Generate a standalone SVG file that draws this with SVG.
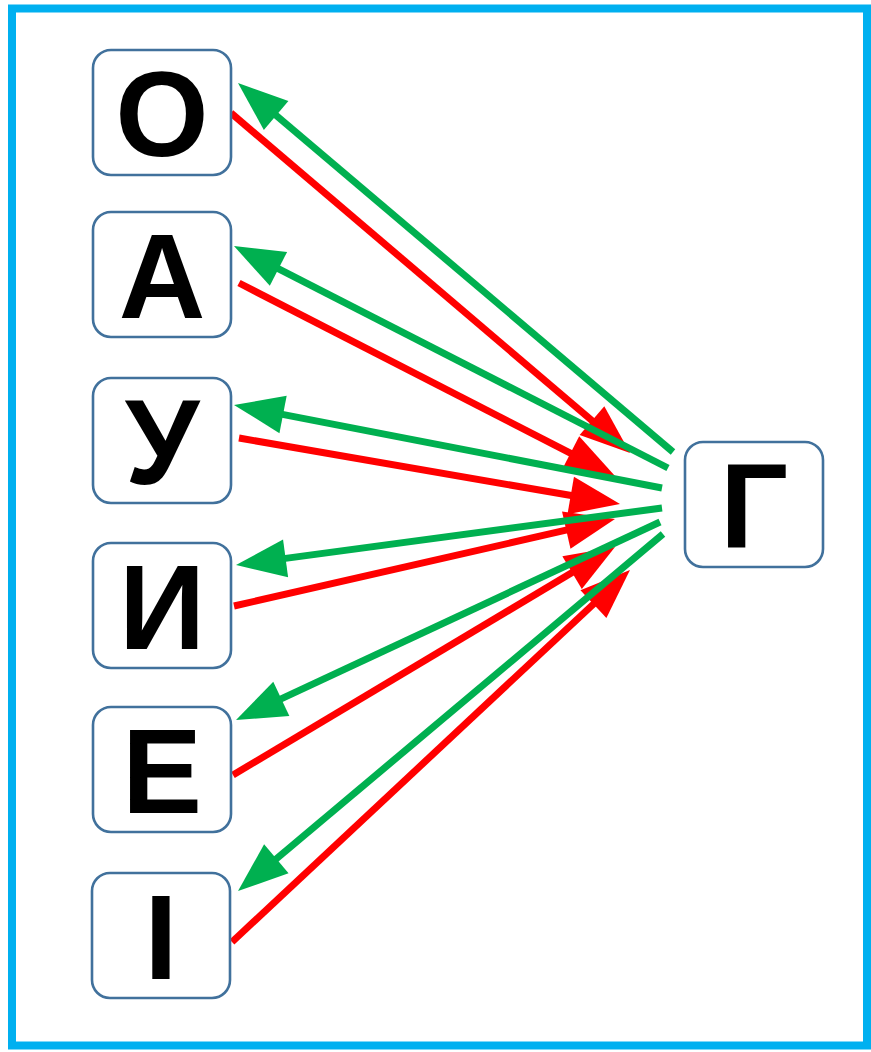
<svg xmlns="http://www.w3.org/2000/svg" width="871" height="1052" viewBox="0 0 871 1052">
<style>
.box{fill:#fff;stroke:#41719c;stroke-width:2.6}
.lt{font-family:"Liberation Sans",Arial,sans-serif;font-weight:bold;font-size:120px;fill:#000;text-anchor:middle}
.r{stroke:#ff0000;stroke-width:7;fill:none;marker-end:url(#ar)}
.g{stroke:#00b050;stroke-width:7;fill:none;marker-end:url(#ag)}
</style>
<defs>
<marker id="ar" markerUnits="userSpaceOnUse" markerWidth="50" markerHeight="38" refX="2" refY="19" orient="auto" overflow="visible"><path d="M0,0 L50,19 L0,38 z" fill="#ff0000"/></marker>
<marker id="ag" markerUnits="userSpaceOnUse" markerWidth="50" markerHeight="38" refX="2" refY="19" orient="auto" overflow="visible"><path d="M0,0 L50,19 L0,38 z" fill="#00b050"/></marker>
</defs>
<rect x="12" y="8.5" width="855" height="1037" fill="#fff" stroke="#00b0f0" stroke-width="8"/>
<g id="connectors">
<line class="r" x1="231" y1="113" x2="593.5" y2="421.9"/>
<line class="r" x1="239" y1="283" x2="572.3" y2="454.1"/>
<line class="r" x1="239" y1="438" x2="572.7" y2="495.8"/>
<line class="r" x1="234" y1="606" x2="568.2" y2="529.7"/>
<line class="r" x1="233" y1="775" x2="573.8" y2="571.6"/>
<line class="r" x1="232" y1="942" x2="594.9" y2="602.8"/>
<line class="g" x1="673" y1="452" x2="274.6" y2="114.1"/>
<line class="g" x1="668" y1="468" x2="276.7" y2="267.9"/>
<line class="g" x1="662" y1="488" x2="281.1" y2="414.1"/>
<line class="g" x1="662" y1="508" x2="283.6" y2="558.6"/>
<line class="g" x1="660" y1="522" x2="279.5" y2="699.7"/>
<line class="g" x1="663" y1="534" x2="274.8" y2="860.1"/>
</g>
<g id="node-O"><rect class="box" x="93" y="50" width="138" height="125" rx="18"/><text class="lt" x="162" y="156">О</text></g>
<g id="node-A"><rect class="box" x="93" y="212" width="138" height="125" rx="18"/><text class="lt" x="162" y="318">А</text></g>
<g id="node-U"><rect class="box" x="93" y="378" width="138" height="125" rx="18"/><text class="lt" x="162" y="484">У</text></g>
<g id="node-I"><rect class="box" x="93" y="543" width="138" height="125" rx="18"/><text class="lt" x="162" y="649">И</text></g>
<g id="node-E"><rect class="box" x="93" y="707" width="138" height="125" rx="18"/><text class="lt" x="162" y="813">Е</text></g>
<g id="node-Ii"><rect class="box" x="92" y="873" width="138" height="125" rx="18"/><text class="lt" x="161" y="979">І</text></g>
<g id="node-G"><rect class="box" x="685" y="442" width="138" height="125" rx="18"/><text class="lt" x="754" y="548">Г</text></g>
</svg>
